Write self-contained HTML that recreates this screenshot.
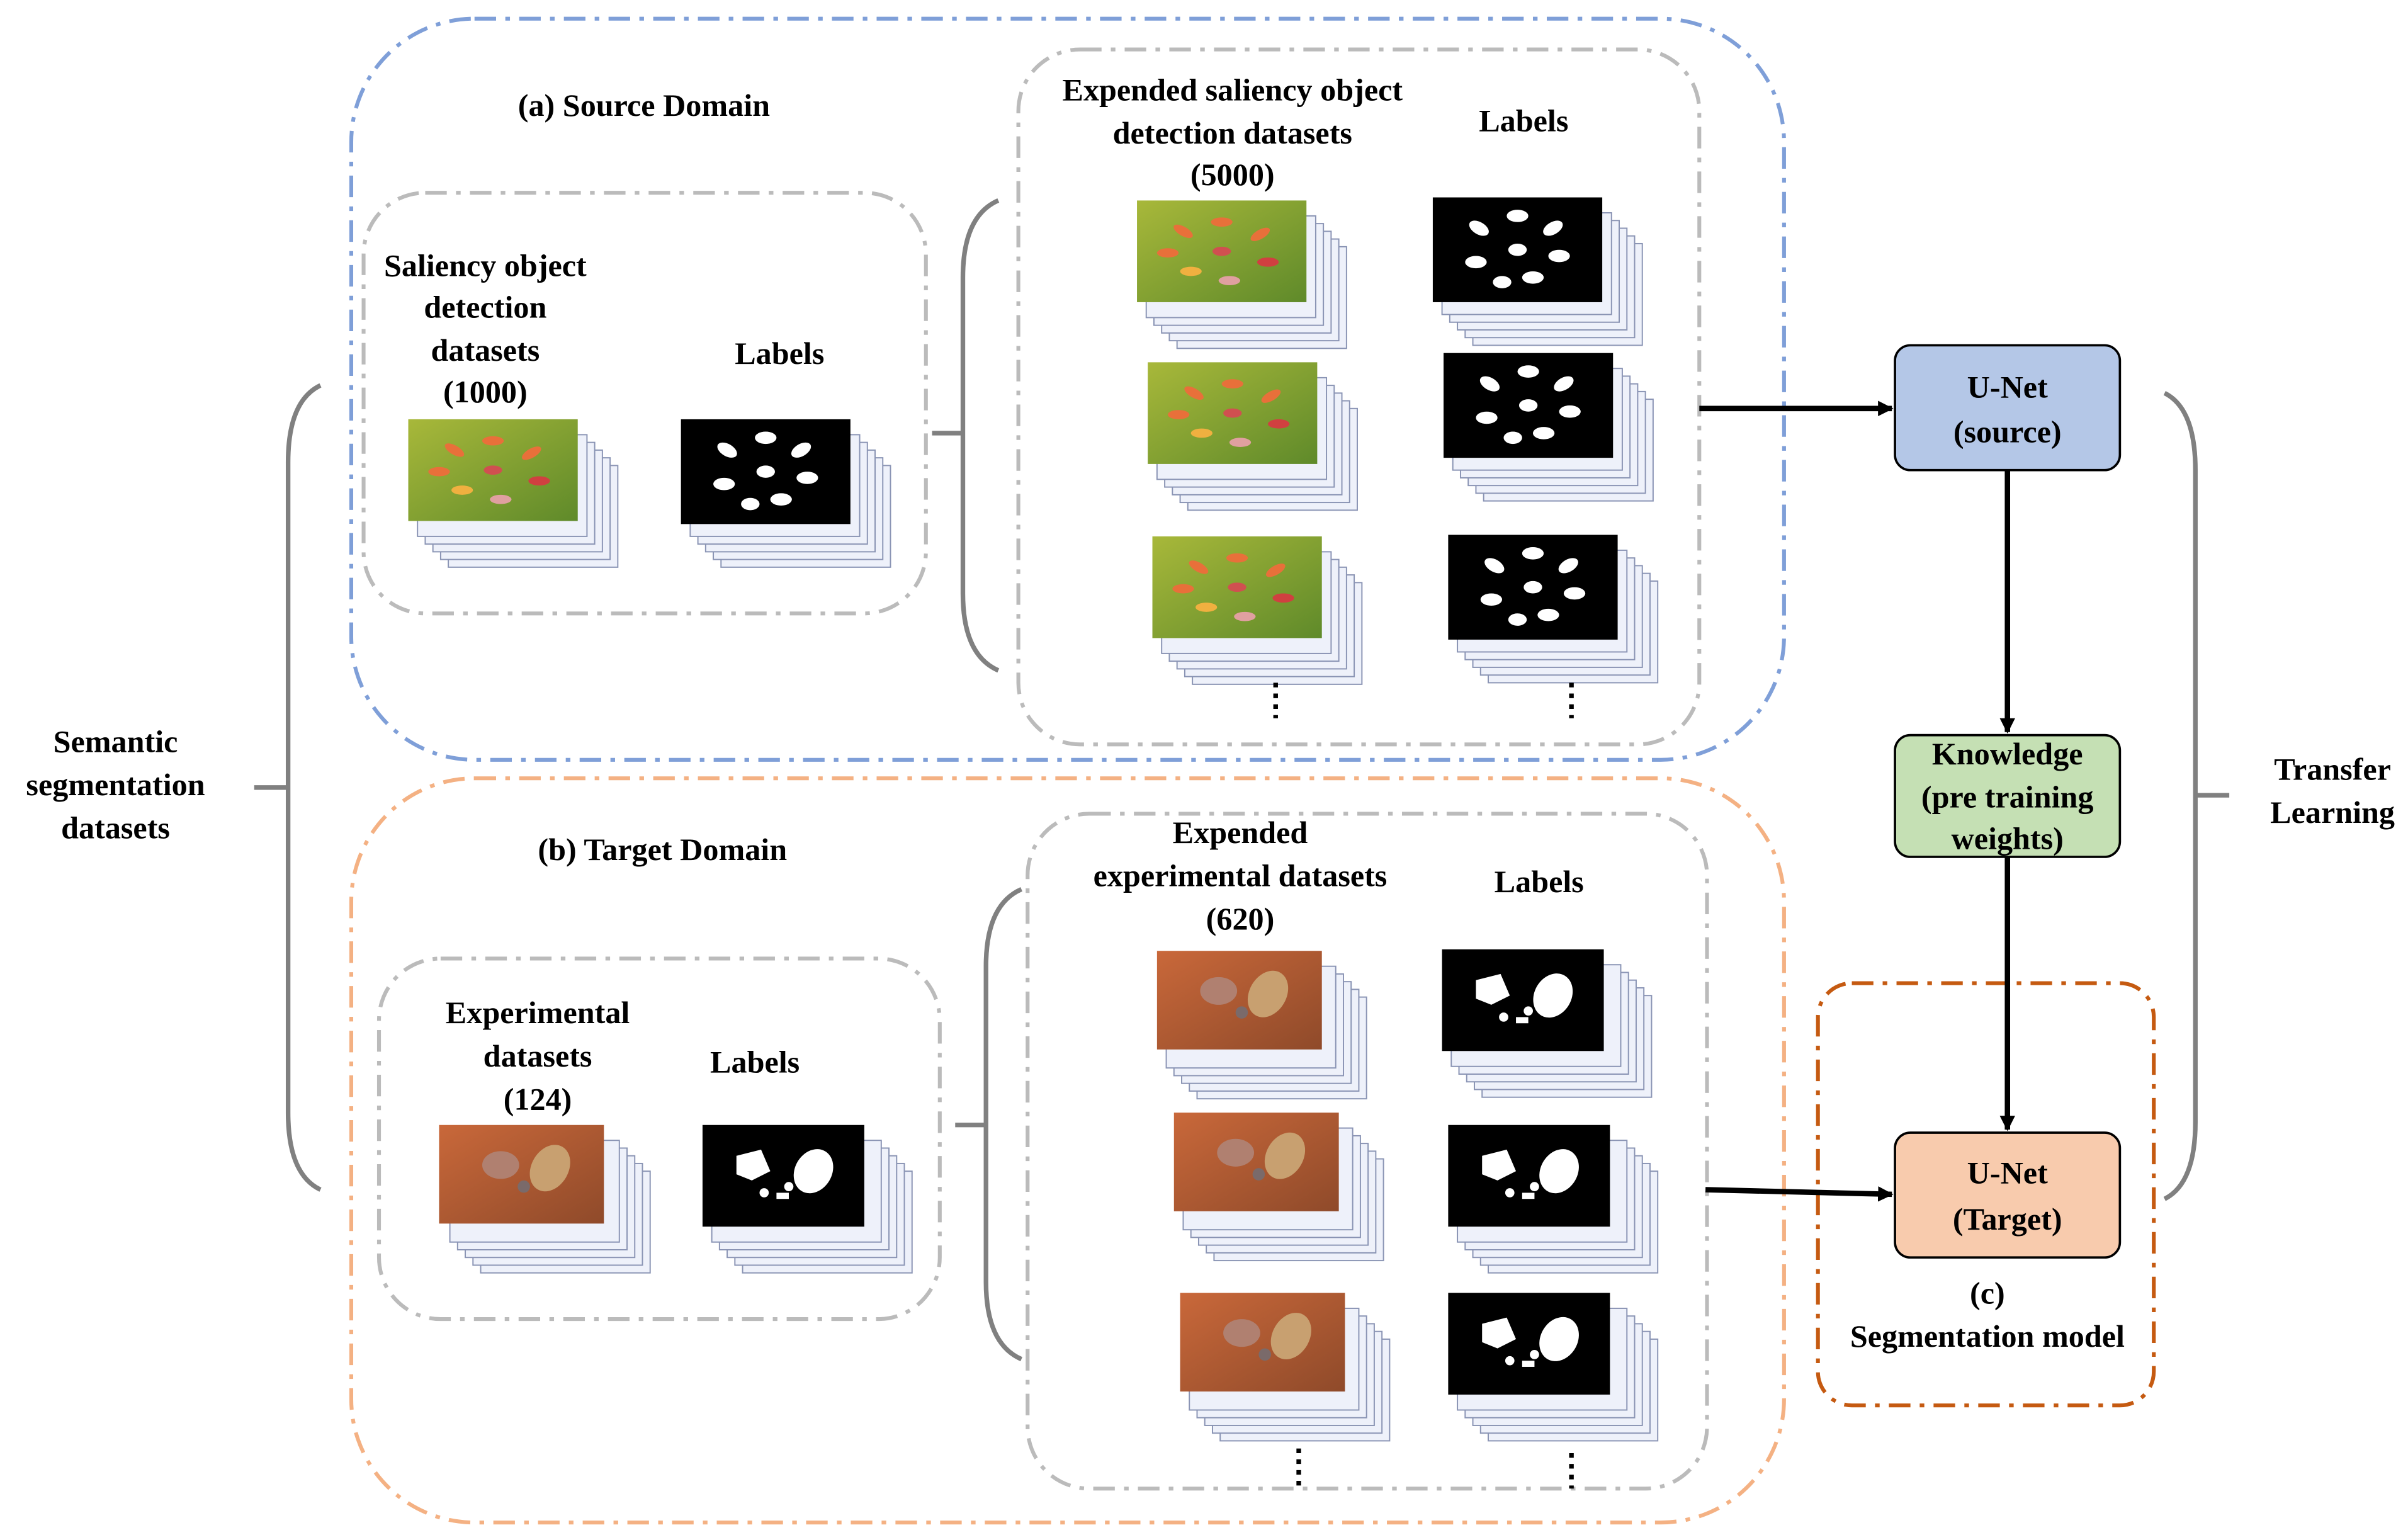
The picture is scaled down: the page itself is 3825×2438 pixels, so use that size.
<!DOCTYPE html>
<html><head><meta charset="utf-8"><style>
html,body{margin:0;padding:0;background:#fff}
svg{display:block}
text{font-family:"Liberation Serif",serif;font-weight:bold;font-size:20.5px;fill:#000;text-anchor:middle}
</style></head><body>
<svg width="3825" height="2438" viewBox="0 0 1563 996" xmlns="http://www.w3.org/2000/svg">
<defs>
<marker id="ar" markerWidth="10" markerHeight="10" refX="9" refY="5" orient="auto" markerUnits="userSpaceOnUse" viewBox="0 0 10 10"><path d="M0,0 L10,5 L0,10 z" fill="#000"/></marker>
<g id="stk">
<rect x="25" y="25" width="110" height="66" fill="#eef1fa" stroke="#8a94b4" stroke-width="0.8"/>
<rect x="20" y="20" width="110" height="66" fill="#eef1fa" stroke="#8a94b4" stroke-width="0.8"/>
<rect x="15" y="15" width="110" height="66" fill="#eef1fa" stroke="#8a94b4" stroke-width="0.8"/>
<rect x="10" y="10" width="110" height="66" fill="#eef1fa" stroke="#8a94b4" stroke-width="0.8"/>
<rect x="5" y="5" width="110" height="66" fill="#eef1fa" stroke="#8a94b4" stroke-width="0.8"/>
</g>
<linearGradient id="gg" x1="0" y1="0" x2="1" y2="1"><stop offset="0" stop-color="#a8b83a"/><stop offset="1" stop-color="#5f8a2a"/></linearGradient>
<linearGradient id="bg" x1="0" y1="0" x2="1" y2="1"><stop offset="0" stop-color="#c9683a"/><stop offset="1" stop-color="#8f4a2a"/></linearGradient>
<g id="green">
<rect width="110" height="66" fill="url(#gg)"/>
<g fill="#e8703a"><ellipse cx="30" cy="20" rx="7" ry="3" transform="rotate(30 30 20)"/><ellipse cx="55" cy="14" rx="7" ry="3"/><ellipse cx="80" cy="22" rx="7" ry="3" transform="rotate(-30 80 22)"/><ellipse cx="85" cy="40" rx="7" ry="3" fill="#d04040"/><ellipse cx="60" cy="52" rx="7" ry="3" fill="#e0a0a0"/><ellipse cx="35" cy="46" rx="7" ry="3" fill="#f0b040"/><ellipse cx="20" cy="34" rx="7" ry="3"/><ellipse cx="55" cy="33" rx="6" ry="3" fill="#d05050"/></g>
</g>
<g id="black">
<rect width="110" height="68" fill="#000"/>
<g fill="#fff"><ellipse cx="30" cy="20" rx="7" ry="4" transform="rotate(30 30 20)"/><ellipse cx="55" cy="12" rx="7" ry="4"/><ellipse cx="78" cy="20" rx="7" ry="4" transform="rotate(-30 78 20)"/><ellipse cx="82" cy="38" rx="7" ry="4"/><ellipse cx="65" cy="52" rx="7" ry="4"/><ellipse cx="45" cy="55" rx="6" ry="4"/><ellipse cx="28" cy="42" rx="7" ry="4"/><ellipse cx="55" cy="34" rx="6" ry="4"/></g>
</g>
<g id="brown">
<rect width="107" height="64" fill="url(#bg)"/>
<ellipse cx="72" cy="28" rx="12" ry="16" fill="#c8a070" transform="rotate(30 72 28)"/>
<ellipse cx="40" cy="26" rx="12" ry="9" fill="#b08070"/>
<circle cx="55" cy="40" r="4" fill="#7a6a6a"/>
</g>
<g id="mask">
<rect width="105" height="66" fill="#000"/>
<path d="M22,20 l16,-4 l6,14 l-12,6 l-10,-4z" fill="#fff"/>
<ellipse cx="72" cy="30" rx="12" ry="15" fill="#fff" transform="rotate(30 72 30)"/>
<circle cx="40" cy="44" r="3" fill="#fff"/><circle cx="56" cy="40" r="3" fill="#fff"/><rect x="48" y="44" width="8" height="4" fill="#fff"/>
</g>
</defs>

<!-- domain boxes -->
<rect x="228" y="12" width="930" height="481" rx="80" fill="none" stroke="#7f9fd8" stroke-width="2.5" stroke-dasharray="14,6,3,6"/>
<rect x="228" y="505" width="930" height="483" rx="80" fill="none" stroke="#f4b183" stroke-width="2.5" stroke-dasharray="14,6,3,6"/>
<g fill="none" stroke="#bbb" stroke-width="2.5" stroke-dasharray="14,6,3,6">
<rect x="236" y="125" width="365" height="273" rx="40"/>
<rect x="661" y="32" width="442" height="451" rx="40"/>
<rect x="246" y="622" width="364" height="234" rx="40"/>
<rect x="667" y="528" width="441" height="438" rx="40"/>
</g>
<rect x="1180" y="638" width="218" height="274" rx="22" fill="none" stroke="#c55a11" stroke-width="2.5" stroke-dasharray="14,6,3,6"/>

<!-- brackets -->
<g fill="none" stroke="#808080" stroke-width="3">
<path d="M208,250 Q187,260 187,300 L187,722 Q187,762 208,772"/>
<line x1="165" y1="511" x2="187" y2="511"/>
<path d="M648,130 Q625,140 625,180 L625,385 Q625,425 648,435"/>
<line x1="605" y1="281" x2="625" y2="281"/>
<path d="M663,577 Q640,587 640,627 L640,832 Q640,872 663,882"/>
<line x1="620" y1="730" x2="640" y2="730"/>
<path d="M1405,255 Q1425,265 1425,305 L1425,728 Q1425,768 1405,778"/>
<line x1="1425" y1="516" x2="1447" y2="516"/>
</g>

<!-- image stacks -->
<use href="#stk" x="266" y="277"/><use href="#green" x="265" y="272"/>
<use href="#stk" x="443" y="277"/><use href="#black" x="442" y="272"/>
<use href="#stk" x="739" y="135"/><use href="#green" x="738" y="130"/>
<use href="#stk" x="931" y="133"/><use href="#black" x="930" y="128"/>
<use href="#stk" x="746" y="240"/><use href="#green" x="745" y="235"/>
<use href="#stk" x="938" y="234"/><use href="#black" x="937" y="229"/>
<use href="#stk" x="749" y="353"/><use href="#green" x="748" y="348"/>
<use href="#stk" x="941" y="352"/><use href="#black" x="940" y="347"/>
<use href="#stk" x="287" y="735"/><use href="#brown" x="285" y="730"/>
<use href="#stk" x="457" y="735"/><use href="#mask" x="456" y="730"/>
<use href="#stk" x="752" y="622"/><use href="#brown" x="751" y="617"/>
<use href="#stk" x="937" y="621"/><use href="#mask" x="936" y="616"/>
<use href="#stk" x="763" y="727"/><use href="#brown" x="762" y="722"/>
<use href="#stk" x="941" y="735"/><use href="#mask" x="940" y="730"/>
<use href="#stk" x="767" y="844"/><use href="#brown" x="766" y="839"/>
<use href="#stk" x="941" y="844"/><use href="#mask" x="940" y="839"/>

<g stroke="#000" stroke-width="3" stroke-dasharray="3,4">
<line x1="828" y1="443" x2="828" y2="466"/><line x1="1020" y1="443" x2="1020" y2="466"/>
<line x1="843" y1="940" x2="843" y2="966"/><line x1="1020" y1="943" x2="1020" y2="966"/>
</g>

<!-- nodes -->
<rect x="1230" y="224" width="146" height="81" rx="10" fill="#b4c7e7" stroke="#000" stroke-width="1.5"/>
<rect x="1230" y="477" width="146" height="79" rx="10" fill="#c5e0b4" stroke="#000" stroke-width="1.5"/>
<rect x="1230" y="735" width="146" height="81" rx="10" fill="#f8cbad" stroke="#000" stroke-width="1.5"/>

<!-- arrows -->
<g stroke="#000" stroke-width="3.5" marker-end="url(#ar)">
<line x1="1103" y1="265" x2="1228" y2="265"/>
<line x1="1303" y1="305" x2="1303" y2="475"/>
<line x1="1303" y1="556" x2="1303" y2="733"/>
<line x1="1107" y1="772" x2="1228" y2="775"/>
</g>

<!-- text -->
<text x="418" y="75">(a) Source Domain</text>
<text x="800" y="65">Expended saliency object</text>
<text x="800" y="93">detection datasets</text>
<text x="800" y="120">(5000)</text>
<text x="989" y="85">Labels</text>
<text x="315" y="179">Saliency object</text>
<text x="315" y="206">detection</text>
<text x="315" y="234">datasets</text>
<text x="315" y="261">(1000)</text>
<text x="506" y="236">Labels</text>
<text x="1303" y="258">U-Net</text>
<text x="1303" y="287">(source)</text>
<text x="1303" y="496">Knowledge</text>
<text x="1303" y="524">(pre training</text>
<text x="1303" y="551">weights)</text>
<text x="75" y="488">Semantic</text>
<text x="75" y="516">segmentation</text>
<text x="75" y="544">datasets</text>
<text x="1514" y="506">Transfer</text>
<text x="1514" y="534">Learning</text>
<text x="430" y="558">(b) Target Domain</text>
<text x="805" y="547">Expended</text>
<text x="805" y="575">experimental datasets</text>
<text x="805" y="603">(620)</text>
<text x="999" y="579">Labels</text>
<text x="349" y="664">Experimental</text>
<text x="349" y="692">datasets</text>
<text x="349" y="720">(124)</text>
<text x="490" y="696">Labels</text>
<text x="1303" y="768">U-Net</text>
<text x="1303" y="798">(Target)</text>
<text x="1290" y="846">(c)</text>
<text x="1290" y="874">Segmentation model</text>
</svg>
</body></html>
